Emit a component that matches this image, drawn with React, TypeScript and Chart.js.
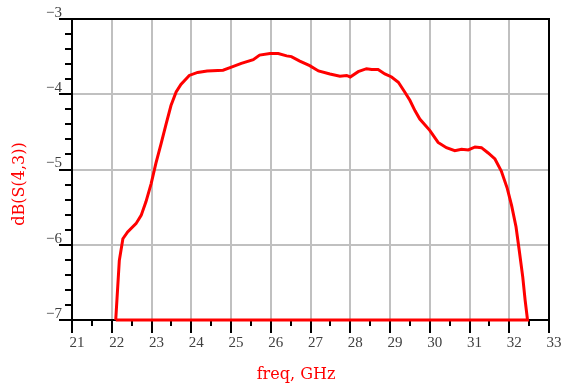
import React, { useEffect, useRef } from "react";
import { Chart, registerables } from "chart.js";

Chart.register(...registerables);

// Trace: dB(S(4,3)) vs freq (GHz), closed along the -7 dB floor
const freqGHz = [
  22.1, 22.19, 22.28, 22.4, 22.61, 22.74, 22.86, 22.99, 23.11, 23.24,
  23.37, 23.49, 23.62, 23.74, 23.95, 24.16, 24.4, 24.8, 25.01, 25.26,
  25.56, 25.72, 25.98, 26.19, 26.4, 26.52, 26.73, 26.98, 27.2, 27.49,
  27.74, 27.91, 28.0, 28.2, 28.41, 28.54, 28.7, 28.87, 29.04, 29.21,
  29.37, 29.5, 29.63, 29.75, 30.0, 30.21, 30.42, 30.63, 30.8, 30.97,
  31.14, 31.3, 31.47, 31.64, 31.8, 31.95, 32.06, 32.17, 32.25, 32.34,
  32.4, 32.46, 22.1,
];
const s43dB = [
  -7.0, -6.21, -5.92, -5.83, -5.72, -5.61, -5.43, -5.19, -4.92, -4.66,
  -4.39, -4.15, -3.97, -3.87, -3.75, -3.71, -3.69, -3.68, -3.64, -3.59,
  -3.54, -3.48, -3.46, -3.46, -3.49, -3.5, -3.56, -3.62, -3.69, -3.73,
  -3.76, -3.75, -3.77, -3.7, -3.66, -3.67, -3.67, -3.73, -3.77, -3.84,
  -3.97, -4.08, -4.22, -4.33, -4.48, -4.64, -4.71, -4.75, -4.73, -4.74,
  -4.7, -4.71, -4.78, -4.86, -5.02, -5.25, -5.48, -5.76, -6.07, -6.43,
  -6.74, -7.0, -7.0,
];

const xMajorTicks = [21, 22, 23, 24, 25, 26, 27, 28, 29, 30, 31, 32, 33];
const xMinorTicks = [21.5, 22.5, 23.5, 24.5, 25.5, 26.5, 27.5, 28.5, 29.5, 30.5, 31.5, 32.5];
const yMajorTicks = [-7, -6, -5, -4, -3];
const yMinorTicks = [
  -6.8, -6.6, -6.4, -6.2, -5.8, -5.6, -5.4, -5.2, -4.8, -4.6, -4.4, -4.2,
  -3.8, -3.6, -3.4, -3.2,
];
const xTitle = "freq, GHz";
const yTitle = "dB(S(4,3))";

const TICK_FONT = "'Liberation Serif', serif";
const TITLE_FONT = "'DejaVu Serif', serif";

const framePlugin = {
  id: "frameAndTicks",
  beforeDatasetsDraw(chart: any) {
    const { ctx, chartArea: a, scales } = chart;
    const x = scales.x;
    const y = scales.y;
    ctx.save();
    ctx.strokeStyle = "#000000";
    ctx.lineWidth = 2;
    ctx.beginPath();
    ctx.moveTo(a.left - 1, a.top);
    ctx.lineTo(a.right, a.top);
    ctx.lineTo(a.right, a.bottom + 1);
    ctx.stroke();

    ctx.beginPath();
    xMajorTicks.forEach((v) => {
      const px = Math.round(x.getPixelForValue(v));
      ctx.moveTo(px, a.bottom);
      ctx.lineTo(px, a.bottom + 13);
    });
    xMinorTicks.forEach((v) => {
      const px = Math.round(x.getPixelForValue(v));
      ctx.moveTo(px, a.bottom);
      ctx.lineTo(px, a.bottom + 6);
    });
    yMajorTicks.forEach((v) => {
      const py = Math.round(y.getPixelForValue(v));
      ctx.moveTo(a.left, py);
      ctx.lineTo(a.left - 13, py);
    });
    yMinorTicks.forEach((v) => {
      const py = Math.round(y.getPixelForValue(v));
      ctx.moveTo(a.left, py);
      ctx.lineTo(a.left - 7, py);
    });
    ctx.stroke();

    ctx.fillStyle = "#ff0000";
    ctx.font = `16px ${TITLE_FONT}`;
    ctx.textAlign = "center";
    ctx.textBaseline = "middle";
    ctx.fillText(xTitle, 296, 375);
    ctx.translate(20, 184);
    ctx.rotate(-Math.PI / 2);
    ctx.fillText(yTitle, 0, 0);
    ctx.restore();
  },
};

export default function App() {
  const ref = useRef<HTMLCanvasElement | null>(null);

  useEffect(() => {
    document.body.style.margin = "0";
    if (!ref.current) return;
    const chart = new Chart(ref.current, {
      type: "scatter",
      data: {
        datasets: [
          {
            data: freqGHz.map((f, i) => ({ x: f, y: s43dB[i] })),
            showLine: true,
            borderColor: "#ff0000",
            backgroundColor: "#ff0000",
            borderWidth: 3,
            pointRadius: 0,
            tension: 0,
            fill: false,
            clip: false,
          },
        ],
      },
      options: {
        responsive: false,
        animation: false,
        layout: { padding: { top: 18, right: 15, left: 0, bottom: 0 } },
        plugins: {
          legend: { display: false },
          tooltip: { enabled: false },
        },
        scales: {
          x: {
            type: "linear",
            min: 21,
            max: 33,
            afterFit: (s: any) => {
              s.height = 67;
              s.paddingLeft = 0;
              s.paddingRight = 8;
            },
            afterBuildTicks: (s: any) => {
              s.ticks = xMajorTicks.map((v) => ({ value: v }));
            },
            border: { color: "#000000", width: 2 },
            grid: {
              color: "#c0c0c0",
              lineWidth: 2,
              drawTicks: false,
            },
            ticks: {
              color: "#404040",
              font: { family: TICK_FONT, size: 15 },
              padding: 14,
              labelOffset: 5,
              maxRotation: 0,
              autoSkip: false,
              callback: (v: any) => String(v),
            },
          },
          y: {
            type: "linear",
            min: -7,
            max: -3,
            afterFit: (s: any) => {
              s.width = 72;
            },
            afterBuildTicks: (s: any) => {
              s.ticks = yMajorTicks.map((v) => ({ value: v }));
            },
            border: { color: "#000000", width: 2 },
            grid: {
              color: "#c0c0c0",
              lineWidth: 2,
              drawTicks: false,
            },
            ticks: {
              color: "#404040",
              font: { family: TICK_FONT, size: 15 },
              padding: 10,
              labelOffset: -6,
              autoSkip: false,
              callback: (v: any) => String(v).replace("-", "\u2212"),
            },
          },
        },
      },
      plugins: [framePlugin],
    });
    return () => chart.destroy();
  }, []);

  return (
    <div style={{ width: 564, height: 387 }}>
      <canvas ref={ref} width={564} height={387} />
    </div>
  );
}
